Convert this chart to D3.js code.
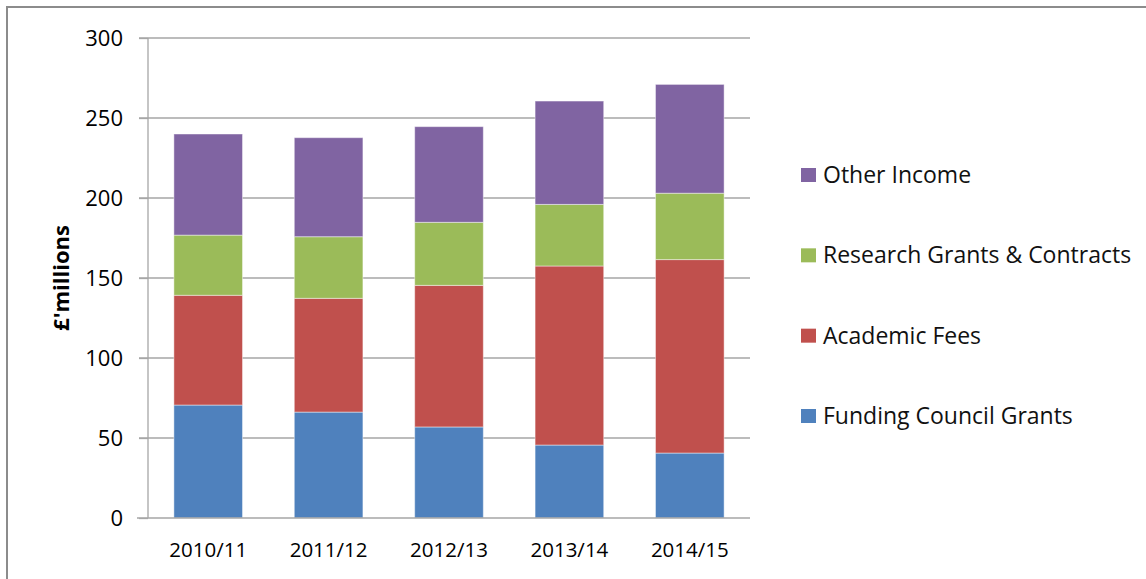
<!DOCTYPE html>
<html>
<head>
<meta charset="utf-8">
<script src="https://cdn.jsdelivr.net/npm/d3@7"></script>
<style>
  body { margin: 0; background: #fff; }
  svg { display: block; font-family: "Open Sans", sans-serif; }
</style>
</head>
<body>
<svg width="1146" height="579"></svg>
<script>
// data (£ millions)
const years = ['2010/11', '2011/12', '2012/13', '2013/14', '2014/15'];
const fundingGrants = [70.6, 66.2, 56.9, 45.6, 40.6];
const academicFees = [68.6, 71.1, 88.5, 111.9, 120.9];
const researchGrants = [37.6, 38.5, 39.4, 38.5, 41.5];
const otherIncome = [63.2, 61.9, 59.8, 64.6, 68.0];
const seriesNames = ['Funding Council Grants', 'Academic Fees', 'Research Grants & Contracts', 'Other Income'];
const yTicks = [0, 50, 100, 150, 200, 250, 300];

const colours = ['#4F81BD', '#C0504D', '#9BBB59', '#8064A2'];

const svg = d3.select('svg');

// outer chart border
svg.append('rect')
    .attr('x', 7).attr('y', 7)
    .attr('width', 1160).attr('height', 600)
    .attr('fill', 'none')
    .attr('stroke', '#8c8c8c')
    .attr('stroke-width', 2);

const plotLeft = 148, plotRight = 750, plotTop = 38, plotBottom = 518;

const x = d3.scaleBand()
    .domain(years)
    .range([plotLeft, plotRight])
    .paddingInner(0.43)
    .paddingOuter(0.215);

const y = d3.scaleLinear()
    .domain([0, 300])
    .range([plotBottom, plotTop]);

// gridlines
svg.append('g')
    .selectAll('line')
    .data(yTicks.filter(d => d > 0))
    .enter()
    .append('line')
    .attr('x1', plotLeft - 9)
    .attr('x2', plotRight)
    .attr('y1', d => y(d))
    .attr('y2', d => y(d))
    .attr('stroke', '#a6a6a6')
    .attr('stroke-width', 1.3);

// build table for the stack
const table = years.map((yr, i) => ({
    year: yr,
    s0: fundingGrants[i],
    s1: academicFees[i],
    s2: researchGrants[i],
    s3: otherIncome[i]
}));
const stacked = d3.stack().keys(['s0', 's1', 's2', 's3'])(table);

const layers = svg.append('g')
    .selectAll('g')
    .data(stacked)
    .enter()
    .append('g')
    .attr('fill', (d, i) => colours[i]);

layers.selectAll('rect')
    .data(d => d)
    .enter()
    .append('rect')
    .attr('x', d => x(d.data.year))
    .attr('width', x.bandwidth())
    .attr('y', d => y(d[1]))
    .attr('height', d => y(d[0]) - y(d[1]))
    .attr('stroke', 'rgba(255,255,255,0.45)')
    .attr('stroke-width', 1);

// axes
const yAxis = d3.axisLeft(y).tickValues(yTicks).tickSize(9).tickPadding(16);
const yAxisGroup = svg.append('g')
    .attr('transform', `translate(${plotLeft},0)`)
    .call(yAxis);
yAxisGroup.select('.domain').remove();
yAxisGroup.append('line')
    .attr('x1', 0).attr('x2', 0)
    .attr('y1', plotTop).attr('y2', plotBottom)
    .attr('stroke', '#a6a6a6').attr('stroke-width', 1.3);
yAxisGroup.selectAll('.tick line').attr('stroke', '#a6a6a6').attr('stroke-width', 1.3);
yAxisGroup.selectAll('.tick text')
    .attr('fill', '#000')
    .style('font-size', '22px')
    .style('font-family', '"Open Sans", sans-serif');

const xAxis = d3.axisBottom(x).tickSize(0).tickPadding(24);
const xAxisGroup = svg.append('g')
    .attr('transform', `translate(0,${plotBottom})`)
    .call(xAxis);
xAxisGroup.select('.domain').remove();
xAxisGroup.append('line')
    .attr('x1', plotLeft - 11).attr('x2', plotRight)
    .attr('y1', 0).attr('y2', 0)
    .attr('stroke', '#a6a6a6').attr('stroke-width', 1.3);
xAxisGroup.selectAll('.tick text')
    .attr('fill', '#000')
    .style('font-size', '20.5px')
    .style('font-family', '"Open Sans", sans-serif');

// y title
svg.append('text')
    .attr('transform', `translate(69,${(plotTop + plotBottom) / 2}) rotate(-90)`)
    .attr('text-anchor', 'middle')
    .style('font-size', '22px')
    .style('font-weight', 'bold')
    .text("£'millions");

// legend, top entry is the top of the stack
const legendY = d3.scalePoint()
    .domain(seriesNames.slice().reverse())
    .range([175, 416]);

const legend = svg.append('g')
    .selectAll('g')
    .data(seriesNames)
    .enter()
    .append('g')
    .attr('transform', d => `translate(801,${legendY(d)})`);

legend.append('rect')
    .attr('x', 0).attr('y', -7)
    .attr('width', 15).attr('height', 14)
    .attr('fill', (d, i) => colours[i]);

legend.append('text')
    .attr('x', 22)
    .attr('dy', '0.35em')
    .style('font-size', '23px')
    .attr('fill', '#111')
    .text(d => d);
</script>
</body>
</html>
